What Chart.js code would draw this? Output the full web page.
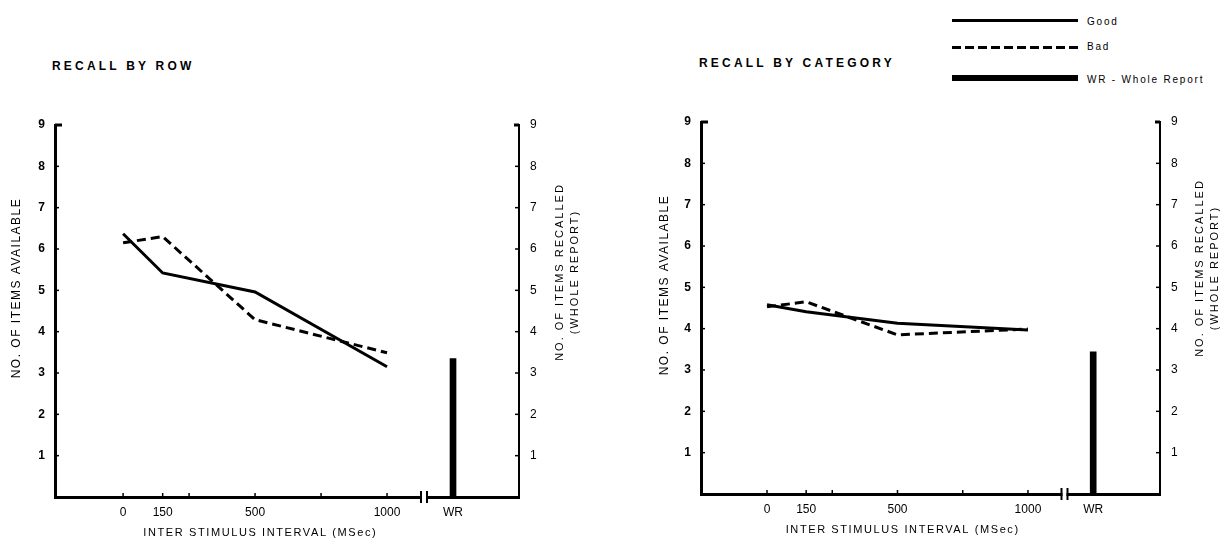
<!DOCTYPE html>
<html>
<head>
<meta charset="utf-8">
<script src="https://cdn.jsdelivr.net/npm/chart.js@4.4.1/dist/chart.umd.min.js"></script>
<style>
  body { margin: 0; background: #fff; width: 1223px; height: 540px; overflow: hidden; position: relative;
         font-family: "Liberation Sans", Arial, sans-serif; color: #000; }
  canvas { position: absolute; top: 0; }
  .head { position: absolute; font-weight: bold; font-size: 12px; letter-spacing: 3.2px; line-height: 14px; white-space: nowrap; }
  .leg-line { position: absolute; left: 952px; width: 126px; background: #000; }
  .leg-text { position: absolute; left: 1087px; font-size: 10px; letter-spacing: 1.8px; line-height: 12px; white-space: nowrap; }
</style>
</head>
<body>
<div class="head" style="left:52px;top:59px">RECALL BY ROW</div>
<div class="head" style="left:699px;top:56px">RECALL BY CATEGORY</div>

<div class="leg-line" style="top:19px;height:3px"></div>
<div class="leg-text" style="top:16px">Good</div>
<div class="leg-line" style="top:46px;height:3px;background:repeating-linear-gradient(to right,#000 0 9px,transparent 9px 13px)"></div>
<div class="leg-text" style="top:41px">Bad</div>
<div class="leg-line" style="top:75px;height:6px"></div>
<div class="leg-text" style="top:74px">WR - Whole Report</div>

<canvas id="rowChart" width="611" height="540" style="left:0"></canvas>
<canvas id="catChart" width="612" height="540" style="left:611px"></canvas>

<script>
// ================ data ================
const intervals = [0, 150, 500, 1000];          // MSec
const rowGood = [6.37, 5.42, 4.96, 3.15];
const rowBad = [6.15, 6.30, 4.29, 3.49];
const catGood = [4.58, 4.41, 4.13, 3.97];
const catBad = [4.53, 4.65, 3.85, 3.99];

const wrPosition = 1250;                         // where the WR bar sits on the x axis
const rowWR = 3.35;
const catWR = 3.44;

const xTickValues = [0, 150, 250, 500, 750, 1000, 1250];
const xTickLabels = { 0: '0', 150: '150', 500: '500', 1000: '1000', 1250: 'WR' };
const breakAt = 1140;

const FONT = '"Liberation Sans", Arial, sans-serif';

function line(ctx, x1, y1, x2, y2) {
    ctx.beginPath();
    ctx.moveTo(x1, y1);
    ctx.lineTo(x2, y2);
    ctx.stroke();
}

// ticks pointing inward, axis break, axis titles
const decor = {
    id: 'decor',
    afterDraw(chart, args, o) {
        const { ctx, chartArea: a, scales: { x, y, y2 } } = chart;
        ctx.save();
        ctx.strokeStyle = '#000';

        for (let v = 1; v <= 9; v++) {
            const top = v === 9;
            ctx.lineWidth = top ? 3 : 1.5;
            const py = y.getPixelForValue(v);
            line(ctx, a.left, py, a.left + (top ? 7 : 4), py);
            const py2 = y2.getPixelForValue(v);
            line(ctx, a.right, py2, a.right - (top ? 5 : 4), py2);
        }

        ctx.lineWidth = 1.5;
        xTickValues.filter(v => v !== wrPosition).forEach(v => {
            const px = x.getPixelForValue(v);
            line(ctx, px, a.bottom, px, a.bottom - 4);
        });

        // broken axis between 1000 and WR
        const bx = x.getPixelForValue(breakAt);
        ctx.fillStyle = '#fff';
        ctx.fillRect(bx - 2, a.bottom - 3, 4, 6);
        ctx.lineWidth = 2;
        line(ctx, bx - 3, a.bottom - 6, bx - 3, a.bottom + 6);
        line(ctx, bx + 3, a.bottom - 6, bx + 3, a.bottom + 6);

        ctx.fillStyle = '#000';
        ctx.textAlign = 'center';
        ctx.textBaseline = 'middle';

        ctx.font = '12px ' + FONT;
        ctx.letterSpacing = '1.5px';
        ctx.save();
        ctx.translate(o.yTitleX, o.yTitleY);
        ctx.rotate(-Math.PI / 2);
        ctx.fillText('NO. OF ITEMS AVAILABLE', 0, 0);
        ctx.restore();

        ctx.font = '11px ' + FONT;
        ctx.letterSpacing = '2px';
        ctx.save();
        ctx.translate(o.y2TitleX, o.y2TitleY);
        ctx.rotate(-Math.PI / 2);
        ctx.fillText('NO. OF ITEMS RECALLED', 0, 0);
        ctx.fillText('(WHOLE REPORT)', 0, 15);
        ctx.restore();

        ctx.letterSpacing = '1.6px';
        ctx.fillText('INTER STIMULUS INTERVAL (MSec)', x.getPixelForValue(520), o.xTitleY);
        ctx.restore();
    }
};

function buildChart(id, good, bad, wr, lay) {
    const pts = vals => intervals.map((t, i) => ({ x: t, y: vals[i] }));
    return new Chart(document.getElementById(id), {
        type: 'line',
        data: {
            datasets: [{
                label: 'Good',
                data: pts(good),
                borderColor: '#000',
                borderWidth: 3,
                pointRadius: 0,
                tension: 0,
                yAxisID: 'y'
            }, {
                label: 'Bad',
                data: pts(bad),
                borderColor: '#000',
                borderWidth: 3,
                borderDash: [9, 5],
                pointRadius: 0,
                tension: 0,
                yAxisID: 'y'
            }, {
                type: 'bar',
                label: 'WR - Whole Report',
                data: [{ x: wrPosition, y: wr }],
                backgroundColor: '#000',
                barThickness: 6,
                yAxisID: 'y2'
            }]
        },
        options: {
            responsive: false,
            animation: false,
            events: [],
            layout: { padding: { top: lay.top, left: 0, right: 0, bottom: 0 } },
            plugins: {
                legend: { display: false },
                tooltip: { enabled: false },
                decor: lay
            },
            scales: {
                x: {
                    type: 'linear',
                    offset: false,
                    min: lay.xMin,
                    max: lay.xMax,
                    afterFit: s => { s.height = lay.xHeight; },
                    afterBuildTicks: s => { s.ticks = xTickValues.map(v => ({ value: v })); },
                    grid: { display: false, drawTicks: false },
                    border: { color: '#000', width: 3 },
                    ticks: {
                        autoSkip: false,
                        maxRotation: 0,
                        padding: 8,
                        color: '#000',
                        font: { family: FONT, size: 12 },
                        callback: v => xTickLabels[v] || ''
                    }
                },
                y: {
                    position: 'left',
                    min: 0,
                    max: 9,
                    afterFit: s => { s.width = lay.yWidth; },
                    grid: { display: false, drawTicks: false },
                    border: { color: '#000', width: 3 },
                    ticks: {
                        stepSize: 1,
                        padding: 10,
                        color: '#000',
                        font: { family: FONT, size: 12, weight: 'bold' },
                        callback: v => v === 0 ? '' : v
                    }
                },
                y2: {
                    position: 'right',
                    min: 0,
                    max: 9,
                    afterFit: s => { s.width = lay.y2Width; },
                    grid: { display: false, drawTicks: false },
                    border: { color: '#000', width: 2 },
                    ticks: {
                        stepSize: 1,
                        padding: 11,
                        color: '#000',
                        font: { family: FONT, size: 12 },
                        callback: v => v === 0 ? '' : v
                    }
                }
            }
        },
        plugins: [decor]
    });
}

buildChart('rowChart', rowGood, rowBad, rowWR, {
    top: 125, xHeight: 43, yWidth: 55, y2Width: 92, xMin: -258, xMax: 1500,
    yTitleX: 17, yTitleY: 288, y2TitleX: 560, y2TitleY: 272, xTitleY: 533
});

buildChart('catChart', catGood, catBad, catWR, {
    top: 122, xHeight: 46, yWidth: 90, y2Width: 63, xMin: -253, xMax: 1506,
    yTitleX: 54, yTitleY: 285, y2TitleX: 589, y2TitleY: 268, xTitleY: 530
});
</script>
</body>
</html>
